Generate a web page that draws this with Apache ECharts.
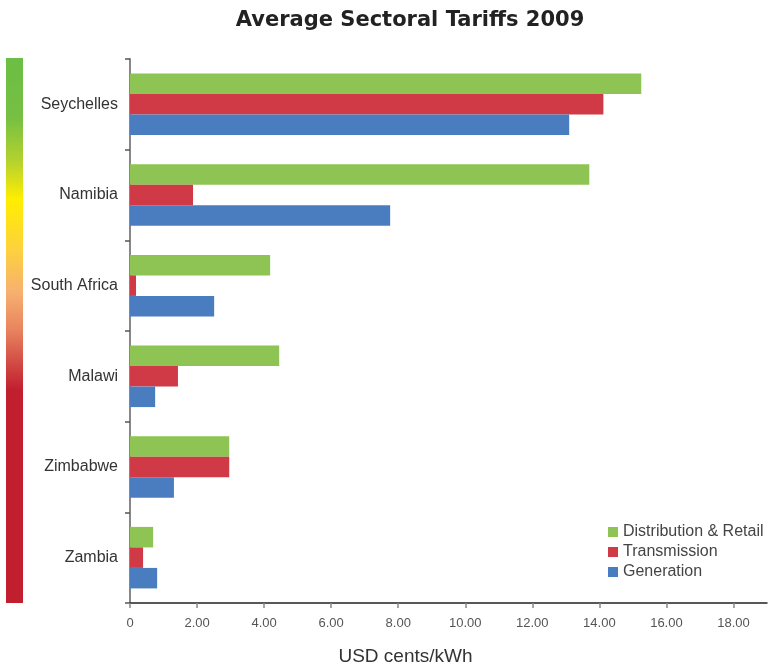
<!DOCTYPE html>
<html>
<head>
<meta charset="utf-8">
<script src="https://cdn.jsdelivr.net/npm/echarts@6/dist/echarts.min.js"></script>
<style>html,body{margin:0;padding:0;background:#fff}#c{width:768px;height:667px}</style>
</head>
<body>
<div id="c"></div>
<script>
// Categories bottom-to-top
var countries = ['Zambia', 'Zimbabwe', 'Malawi', 'South Africa', 'Namibia', 'Seychelles'];
var generation = [0.81, 1.31, 0.75, 2.51, 7.76, 13.1];
var transmission = [0.39, 2.96, 1.43, 0.18, 1.88, 14.12];
var distribution = [0.69, 2.96, 4.45, 4.18, 13.7, 15.25];
var xTicks = [0, 2, 4, 6, 8, 10, 12, 14, 16, 18];

var chart = echarts.init(document.getElementById('c'));
var font = '"Liberation Sans", Arial, Helvetica, sans-serif';
chart.setOption({
  animation: false,
  textStyle: { fontFamily: font },
  title: {
    text: 'Average Sectoral Tariffs 2009',
    left: 405, top: 5, textAlign: 'center',
    textStyle: { fontFamily: '"DejaVu Sans", sans-serif', fontSize: 21, fontWeight: 'bold', color: '#222' }
  },
  legend: {
    orient: 'vertical', left: 603, top: 519,
    data: ['Distribution & Retail', 'Transmission', 'Generation'],
    icon: 'rect', itemWidth: 10, itemHeight: 10, itemGap: 4,
    textStyle: { fontFamily: font, fontSize: 16, color: '#444' }
  },
  grid: { left: 130, right: 1, top: 59, bottom: 64, containLabel: false, outerBoundsMode: 'none' },
  xAxis: {
    type: 'value', min: 0, max: 19, interval: 2,
    name: 'USD cents/kWh', nameLocation: 'middle', nameGap: 44,
    nameTextStyle: { fontFamily: font, fontSize: 19, color: '#333', padding: [0, 86, 0, 0] },
    splitLine: { show: false },
    axisLine: { show: true, lineStyle: { color: '#222', width: 1.5 } },
    axisTick: { show: true, length: 5, lineStyle: { color: '#888', width: 1.5 }, customValues: xTicks },
    axisLabel: {
      fontFamily: font, color: '#555', fontSize: 13, margin: 14, customValues: xTicks,
      formatter: function (v) { return v === 0 ? '0' : v.toFixed(2); }
    }
  },
  yAxis: {
    type: 'category', data: countries,
    axisLine: { show: true, lineStyle: { color: '#888', width: 2 } },
    axisTick: { show: true, length: 5, lineStyle: { color: '#555', width: 1.5 } },
    axisLabel: { fontFamily: font, color: '#333', fontSize: 16, margin: 12 }
  },
  series: [
    { name: 'Distribution & Retail', type: 'bar', data: distribution, itemStyle: { color: '#8DC453' }, barWidth: 20.5, barGap: '0%' },
    { name: 'Transmission', type: 'bar', data: transmission, itemStyle: { color: '#D03A46' }, barWidth: 20.5, barGap: '0%' },
    { name: 'Generation', type: 'bar', data: generation, itemStyle: { color: '#4A7CC0' }, barWidth: 20.5, barGap: '0%' }
  ],
  graphic: [{
    type: 'rect', left: 6, top: 58, z: -1,
    shape: { width: 17, height: 545 },
    style: {
      fill: new echarts.graphic.LinearGradient(0, 0, 0, 1, [
        { offset: 0, color: '#6CBE45' },
        { offset: 0.11, color: '#76C043' },
        { offset: 0.19, color: '#B5D22E' },
        { offset: 0.26, color: '#FFEE00' },
        { offset: 0.35, color: '#FDD23C' },
        { offset: 0.43, color: '#F7B070' },
        { offset: 0.5, color: '#E8835E' },
        { offset: 0.56, color: '#D24A44' },
        { offset: 0.61, color: '#C11E2E' },
        { offset: 1, color: '#C11E2E' }
      ])
    }
  }]
});
</script>
</body>
</html>
